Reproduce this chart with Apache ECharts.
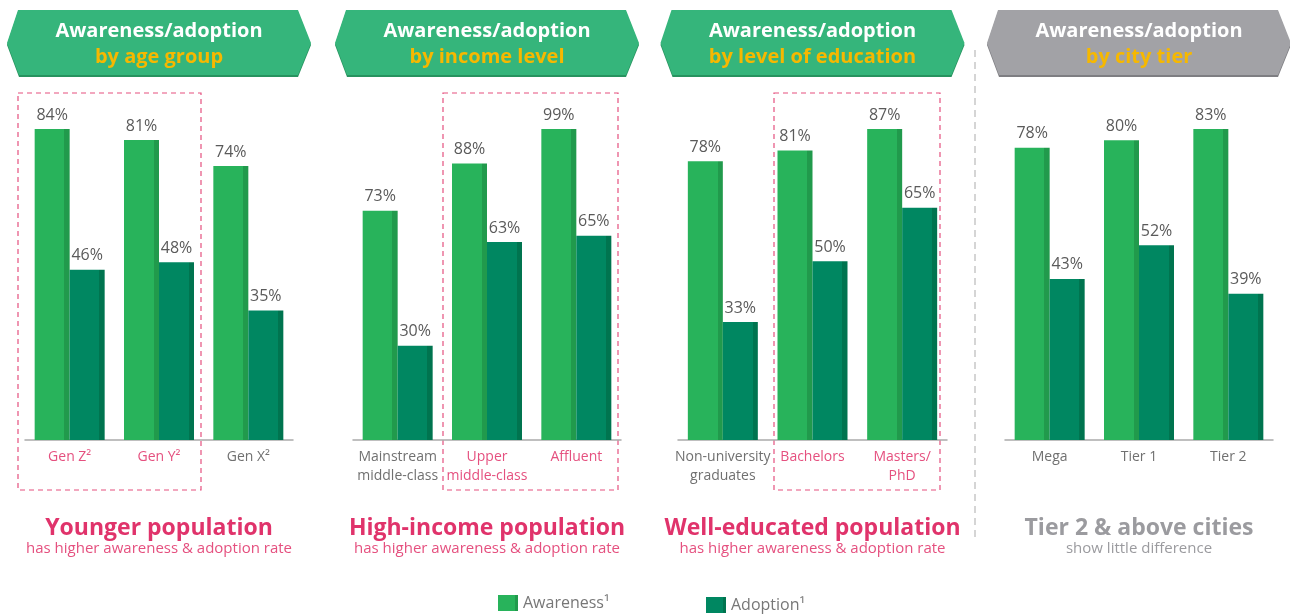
<!DOCTYPE html>
<html>
<head>
<meta charset="utf-8">
<script src="https://cdn.jsdelivr.net/npm/echarts@6/dist/echarts.min.js"></script>
<style>
  html, body { margin: 0; padding: 0; background: #fff; }
  #chart { width: 1290px; height: 615px; }
</style>
</head>
<body>
<div id="chart"></div>
<script>
// data, one small array per panel
const ageCats = ['Gen Z²', 'Gen Y²', 'Gen X²'];
const ageAwareness = [84, 81, 74];
const ageAdoption = [46, 48, 35];

const incomeCats = ['Mainstream\nmiddle-class', 'Upper\nmiddle-class', 'Affluent'];
const incomeAwareness = [73, 88, 99];
const incomeAdoption = [30, 63, 65];

const eduCats = ['Non-university\ngraduates', 'Bachelors', 'Masters/\nPhD'];
const eduAwareness = [78, 81, 87];
const eduAdoption = [33, 50, 65];

const tierCats = ['Mega', 'Tier 1', 'Tier 2'];
const tierAwareness = [78, 80, 83];
const tierAdoption = [43, 52, 39];

const headerSub = ['by age group', 'by income level', 'by level of education', 'by city tier'];
const captionMain = ['Younger population', 'High-income population', 'Well-educated population', 'Tier 2 & above cities'];
const captionSub = ['has higher awareness & adoption rate', 'has higher awareness & adoption rate',
  'has higher awareness & adoption rate', 'show little difference'];
// which categories are highlighted (pink label)
const highlighted = [['Gen Z²', 'Gen Y²'], ['Upper\nmiddle-class', 'Affluent'], ['Bachelors', 'Masters/\nPhD'], []];

const FONT = '"Open Sans", "Noto Sans", sans-serif';
const PINK = '#E0336B';
const LABEL_PINK = '#E5507F';

// each panel scales its own tallest bar to the same height
const panels = [
  {cats: ageCats, aw: ageAwareness, ad: ageAdoption, left: 25, width: 268},
  {cats: incomeCats, aw: incomeAwareness, ad: incomeAdoption, left: 353, width: 268},
  {cats: eduCats, aw: eduAwareness, ad: eduAdoption, left: 678, width: 269},
  {cats: tierCats, aw: tierAwareness, ad: tierAdoption, left: 1005, width: 268}
];

function stripe(c1, c2) {
  return new echarts.graphic.LinearGradient(0, 0, 1, 0, [
    {offset: 0, color: c1}, {offset: 0.85, color: c1},
    {offset: 0.85, color: c2}, {offset: 1, color: c2}
  ]);
}

const chart = echarts.init(document.getElementById('chart'));

const grids = [], xAxes = [], yAxes = [], series = [], graphics = [];

panels.forEach((p, i) => {
  grids.push({left: p.left, width: p.width, top: 129, bottom: 175});
  const hi = highlighted[i];
  xAxes.push({
    type: 'category', gridIndex: i, data: p.cats,
    axisLine: {lineStyle: {color: '#aaaaaa', width: 1.5}},
    axisTick: {show: false},
    axisLabel: {
      interval: 0, fontFamily: FONT, fontSize: 14, lineHeight: 19, margin: 8,
      color: (v) => hi.indexOf(v) >= 0 ? LABEL_PINK : '#707070'
    }
  });
  yAxes.push({type: 'value', gridIndex: i, min: 0, max: (v) => v.max, show: false, splitLine: {show: false}});

  const label = {show: true, position: 'top', distance: 6, fontFamily: FONT, fontSize: 16,
    color: '#5a5a5a', formatter: '{c}%'};
  series.push({
    name: 'Awareness¹', type: 'bar', xAxisIndex: i, yAxisIndex: i, data: p.aw,
    barWidth: 35, barGap: '0%', label: label,
    itemStyle: {color: stripe('#28B35B', '#219A4C')}
  });
  series.push({
    name: 'Adoption¹', type: 'bar', xAxisIndex: i, yAxisIndex: i, data: p.ad,
    barWidth: 35, barGap: '0%', label: label,
    itemStyle: {color: stripe('#008761', '#00744F')}
  });

  // header chevron
  const cx = p.left + p.width / 2;
  const hl = cx - 152, hr = cx + 152;
  const fill = i === 3 ? '#A2A2A6' : '#35B57B';
  const shade = i === 3 ? '#7E7E82' : '#27935F';
  const pts = [[hl, 43], [hl + 11, 10], [hr - 13, 10], [hr, 43], [hr - 13, 75], [hl + 12, 75]];
  graphics.push({type: 'polygon', shape: {points: pts.map(q => [q[0], q[1] + 2])}, style: {fill: shade}, silent: true});
  graphics.push({type: 'polygon', shape: {points: pts}, style: {fill: fill}, silent: true});
  graphics.push({type: 'text', x: cx, y: 31, style: {text: 'Awareness/adoption', fill: '#fff',
    font: 'bold 20px ' + FONT, align: 'center', verticalAlign: 'middle'}, silent: true});
  graphics.push({type: 'text', x: cx, y: 57, style: {text: headerSub[i], fill: '#F6B800',
    font: 'bold 20px ' + FONT, align: 'center', verticalAlign: 'middle'}, silent: true});

  // captions
  const capColor = i === 3 ? '#9B9B9F' : PINK;
  graphics.push({type: 'text', x: cx, y: 528, style: {text: captionMain[i], fill: capColor,
    font: 'bold 23px ' + FONT, align: 'center', verticalAlign: 'middle'}, silent: true});
  graphics.push({type: 'text', x: cx, y: 549, style: {text: captionSub[i], fill: i === 3 ? '#9B9B9F' : '#E5507F',
    font: '15px ' + FONT, align: 'center', verticalAlign: 'middle'}, silent: true});
});

// dashed highlight boxes
const boxes = [[18, 93, 183, 397], [443, 93, 175, 397], [774, 93, 166, 397]];
boxes.forEach(b => {
  graphics.push({type: 'rect', shape: {x: b[0], y: b[1], width: b[2], height: b[3]},
    style: {fill: 'none', stroke: '#E5507F', lineWidth: 1.2, lineDash: [5, 4]}, silent: true});
});
// separator
graphics.push({type: 'line', shape: {x1: 975, y1: 50, x2: 975, y2: 540},
  style: {stroke: '#c8c8c8', lineWidth: 1.5, lineDash: [7, 5]}, silent: true});

chart.setOption({
  animation: false,
  grid: grids,
  xAxis: xAxes,
  yAxis: yAxes,
  series: series,
  legend: [
    {data: ['Awareness¹'], left: 493, top: 590, icon: 'rect', itemWidth: 20, itemHeight: 16, itemGap: 6,
      textStyle: {fontFamily: FONT, fontSize: 16, color: '#777'}},
    {data: ['Adoption¹'], left: 701, top: 592, icon: 'rect', itemWidth: 20, itemHeight: 16, itemGap: 6,
      textStyle: {fontFamily: FONT, fontSize: 16, color: '#777'}}
  ],
  graphic: graphics
});
</script>
</body>
</html>
